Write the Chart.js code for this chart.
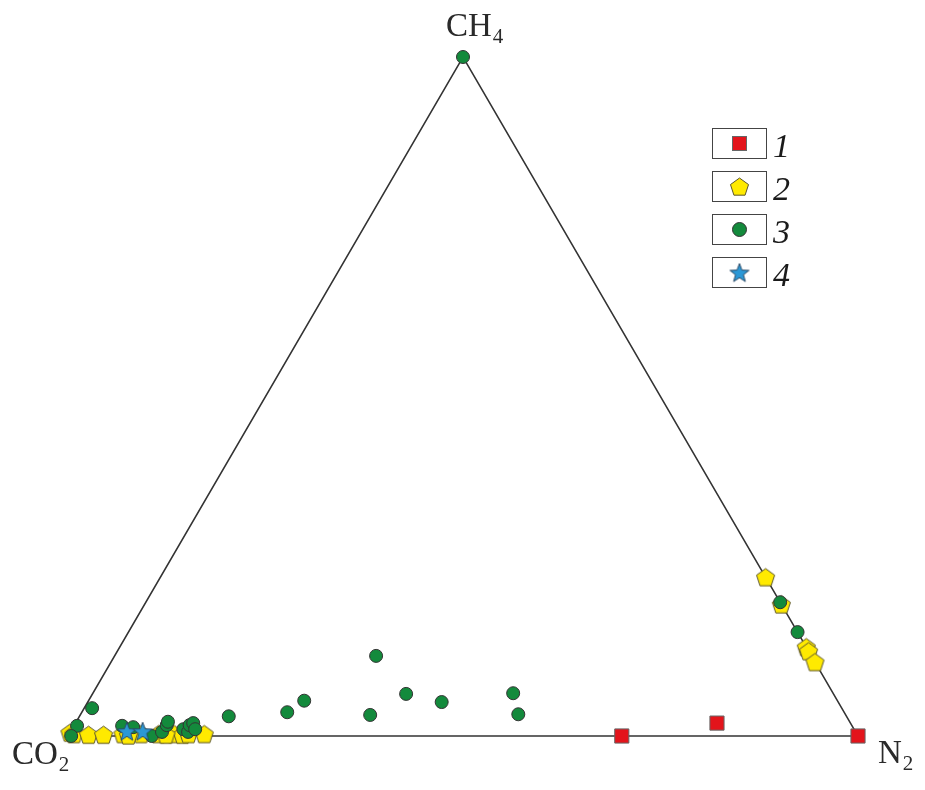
<!DOCTYPE html>
<html>
<head>
<meta charset="utf-8">
<script src="https://cdn.jsdelivr.net/npm/chart.js@4/dist/chart.umd.min.js"></script>
<style>
  html, body { margin: 0; padding: 0; background: #fff; }
  #wrap { width: 925px; height: 790px; }
</style>
</head>
<body>
<div id="wrap"><canvas id="myChart" width="925" height="790"></canvas></div>
<script>
// ternary composition: [CH4 %, N2 %], CO2 is the rest
const vertexLabels = ['CH4', 'CO2', 'N2'];
const legendLabels = ['1', '2', '3', '4'];
const triangle = [[0, 0], [0, 100], [100, 0], [0, 0]];

const group1 = [[0, 70.1], [1.9, 81.2], [0, 100]];
const group2 = [
  [23.4, 76.6], [19.4, 80.6], [13.1, 86.9], [12.5, 87.5], [10.9, 89.1],
  [0.5, 0], [0.3, 0.6], [0.2, 2.5], [0.2, 4.4], [0.3, 6.8], [0.3, 9.1],
  [0.3, 11.3], [0.3, 13.3], [0.2, 14.4], [0.3, 15.1], [0.3, 17.1], [0.1, 7.6], [0.2, 12.3]
];
const group3 = [
  [100, 0], [19.7, 80.3], [15.3, 84.7],
  [4.1, 1.0], [1.5, 0.4], [0, 0.4],
  [1.5, 6.1], [1.3, 7.6], [0, 10.6], [0.6, 11.6], [1.6, 11.7], [2.1, 11.6],
  [1.0, 14.1], [0.6, 14.9], [1.6, 14.6], [1.9, 14.9], [1.0, 15.6],
  [2.9, 18.9], [3.5, 26.0], [5.2, 27.3], [11.8, 33.1], [3.1, 36.7],
  [6.2, 39.7], [5.0, 44.8], [6.3, 53.2], [3.2, 55.4]
];
const group4 = [[0.7, 7.1], [0.7, 9.1]];

const colors = {
  square: '#e3141b',
  pentagon: '#ffea00',
  circle: '#138a3c',
  star: '#2b98d6',
  edge: '#444444'
};

function toXY(p) {
  return { x: p[1] + p[0] / 2, y: p[0] };
}

function makePentagon(r) {
  const c = document.createElement('canvas');
  c.width = c.height = Math.ceil(r * 2 + 4);
  const g = c.getContext('2d');
  const cx = c.width / 2, cy = c.height / 2 + 1;
  g.beginPath();
  for (let i = 0; i < 5; i++) {
    const a = -Math.PI / 2 + i * 2 * Math.PI / 5;
    g.lineTo(cx + r * Math.cos(a), cy + r * Math.sin(a));
  }
  g.closePath();
  g.fillStyle = colors.pentagon;
  g.fill();
  g.strokeStyle = '#5b5530';
  g.lineWidth = 1;
  g.stroke();
  return c;
}

function makeStar(r) {
  const c = document.createElement('canvas');
  c.width = c.height = Math.ceil(r * 2 + 4);
  const g = c.getContext('2d');
  const cx = c.width / 2, cy = c.height / 2 + 1;
  g.beginPath();
  for (let i = 0; i < 10; i++) {
    const a = -Math.PI / 2 + i * Math.PI / 5;
    const rr = i % 2 === 0 ? r : r * 0.42;
    g.lineTo(cx + rr * Math.cos(a), cy + rr * Math.sin(a));
  }
  g.closePath();
  g.fillStyle = colors.star;
  g.fill();
  g.strokeStyle = '#2b4a66';
  g.lineWidth = 1;
  g.stroke();
  return c;
}

const pentagon = makePentagon(9.5);
const star = makeStar(10);

// labels for vertices and the boxed legend
const decorPlugin = {
  id: 'decor',
  afterDraw(chart) {
    const ctx = chart.ctx;
    ctx.save();
    ctx.fillStyle = '#2a2a2a';
    ctx.textBaseline = 'alphabetic';
    const big = '33px "Liberation Serif", "Times New Roman", serif';
    const sub = '21px "Liberation Serif", "Times New Roman", serif';
    function chem(text, x, y) {
      const base = text.slice(0, -1);
      const idx = text.slice(-1);
      ctx.font = big;
      ctx.fillText(base, x, y);
      const w = ctx.measureText(base).width;
      ctx.font = sub;
      ctx.fillText(idx, x + w + 1, y + 7);
    }
    chem(vertexLabels[0], 446, 36);
    chem(vertexLabels[1], 12, 764);
    chem(vertexLabels[2], 878, 763);

    // legend
    const boxX = 712, boxW = 54, boxH = 30;
    const boxY = [128, 171, 214, 257];
    for (let i = 0; i < legendLabels.length; i++) {
      ctx.fillStyle = '#fff';
      ctx.fillRect(boxX, boxY[i], boxW, boxH);
      ctx.strokeStyle = '#444';
      ctx.lineWidth = 1;
      ctx.strokeRect(boxX + 0.5, boxY[i] + 0.5, boxW, boxH);
      const cx = boxX + boxW / 2 + 0.5, cy = boxY[i] + boxH / 2 + 0.5;
      if (i === 0) {
        ctx.fillStyle = colors.square;
        ctx.fillRect(cx - 7, cy - 7, 14, 14);
        ctx.strokeStyle = '#666';
        ctx.strokeRect(cx - 7, cy - 7, 14, 14);
      } else if (i === 1) {
        ctx.drawImage(pentagon, cx - pentagon.width / 2, cy - pentagon.height / 2);
      } else if (i === 2) {
        ctx.beginPath();
        ctx.arc(cx, cy, 7, 0, Math.PI * 2);
        ctx.fillStyle = colors.circle;
        ctx.fill();
        ctx.strokeStyle = '#333';
        ctx.stroke();
      } else {
        ctx.drawImage(star, cx - star.width / 2, cy - star.height / 2);
      }
      ctx.fillStyle = '#1a1a1a';
      ctx.font = 'italic 34px "Liberation Serif", "Times New Roman", serif';
      ctx.fillText(legendLabels[i], 773, boxY[i] + 29);
    }
    ctx.restore();
  }
};

const chartData = {
  datasets: [
    {
      label: 'triangle',
      data: triangle.map(toXY),
      showLine: true,
      borderColor: '#333',
      borderWidth: 1.5,
      pointRadius: 0,
      order: 9
    },
    {
      label: legendLabels[1],
      data: group2.map(toXY),
      pointStyle: pentagon,
      order: 4
    },
    {
      label: legendLabels[2],
      data: group3.map(toXY),
      pointStyle: 'circle',
      pointRadius: 6.5,
      backgroundColor: colors.circle,
      borderColor: '#333',
      borderWidth: 1,
      order: 3
    },
    {
      label: legendLabels[3],
      data: group4.map(toXY),
      pointStyle: star,
      order: 2
    },
    {
      label: legendLabels[0],
      data: group1.map(toXY),
      pointStyle: 'rect',
      pointRadius: 10,
      backgroundColor: colors.square,
      borderColor: '#666',
      borderWidth: 1,
      order: 1
    }
  ]
};

const chartOptions = {
  responsive: false,
  animation: false,
  layout: { padding: { left: 68, right: 67, top: 57, bottom: 54 } },
  clip: false,
  scales: {
    x: { type: 'linear', min: 0, max: 100, display: false },
    y: { type: 'linear', min: 0, max: 100, display: false }
  },
  plugins: {
    legend: { display: false },
    tooltip: { enabled: false }
  }
};

const ctx = document.getElementById('myChart').getContext('2d');
const myChart = new Chart(ctx, {
  type: 'scatter',
  data: chartData,
  options: chartOptions,
  plugins: [decorPlugin]
});
</script>
</body>
</html>
